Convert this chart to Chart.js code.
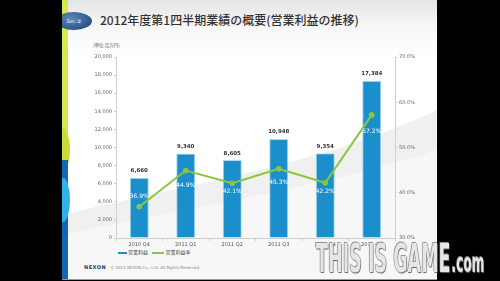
<!DOCTYPE html>
<html>
<head>
<meta charset="utf-8">
<script src="https://cdn.jsdelivr.net/npm/chart.js@4"></script>
<style>
  body { margin: 0; background: #000; width: 500px; height: 281px; overflow: hidden; font-family: "Noto Sans CJK JP", "Noto Sans", sans-serif; }
  #slide { position: absolute; left: 62px; top: 0; width: 375px; height: 280px; background: linear-gradient(#e4e4e4 0px, #f6f6f6 25px, #fff 55px, #fff 100%); overflow: hidden; }
  #deco { position: absolute; left: 0; top: 0; }
  #title { position: absolute; left: 38px; top: 11px; font-size: 12px; font-weight: 500; color: #333; white-space: nowrap; letter-spacing: 0px; }
  #sec { position: absolute; left: -6px; top: 12px; width: 36px; height: 18px; border-radius: 50%; background: radial-gradient(ellipse at 40% 35%, #5b86b8, #1d3f75); color: #fff; font-size: 5px; line-height: 18px; text-align: center; font-family: "DejaVu Sans", sans-serif; }
  #unit { position: absolute; left: 31px; top: 42px; font-size: 4.5px; color: #555; }
  #legend { position: absolute; left: 56px; top: 248px; font-size: 5px; color: #444; white-space: nowrap; }
  #legend span.sw { display: inline-block; width: 9px; height: 2px; vertical-align: middle; margin-right: 1px; }
  #copy { position: absolute; left: 22px; top: 264px; font-size: 4px; color: #888; white-space: nowrap; font-family: "DejaVu Sans", sans-serif; }
  #copy b { color: #233a6e; font-size: 5px; letter-spacing: 0.5px; margin-right: 4px; }
  #wm { position: absolute; left: 316px; top: 237px; font-family: "DejaVu Sans Condensed", "DejaVu Sans", sans-serif; font-weight: bold; font-size: 39px; line-height: 44px; color: #e6e6e6; white-space: nowrap; transform: scaleX(0.5); transform-origin: left top; text-shadow: 0 0 1px #444, 1px 1px 1px #666, -1px -1px 1px #999; }
  #wm small { font-size: 27px; margin-left: 2px; }
  #chartbox { position: absolute; left: 62px; top: 40px; }
</style>
</head>
<body>
<div id="slide">
  <svg id="deco" width="375" height="280">
    <path d="M0,215 C120,185 260,165 375,110 L375,280 L0,280 Z" fill="#f0f0f0"/>
    <path d="M0,235 C140,205 270,185 375,150 L375,280 L0,280 Z" fill="#f7f7f7"/>
    <rect x="0" y="0" width="6" height="160" fill="#d7e84e"/>
    <ellipse cx="0" cy="150" rx="8" ry="22" fill="#c8dc3a"/>
    <rect x="0" y="160" width="6" height="120" fill="#1466b4"/>
    <ellipse cx="1" cy="200" rx="7" ry="22" fill="#2fb2ea"/>
    <line x1="0" y1="279.5" x2="375" y2="279.5" stroke="#999" stroke-width="1"/>
  </svg>
  <div id="sec">Sec.②</div>
  <div id="title">2012年度第1四半期業績の概要(営業利益の推移)</div>
  <div id="unit">(単位:百万円)</div>
  <div id="legend"><span class="sw" style="background:#1b8fcb"></span>営業利益 &nbsp;&nbsp;&nbsp;<span class="sw" style="background:#8cc63f;width:12px"></span>営業利益率</div>
  <div id="copy"><b>NEXON</b>© 2012 NEXON Co., Ltd. All Rights Reserved.</div>
</div>
<div id="chartbox"><canvas id="canvas" width="375" height="230"></canvas></div>
<div id="wm">THIS IS GAME<small>.com</small></div>
<script>
var labels = ['2010 Q4', '2011 Q1', '2011 Q2', '2011 Q3', '2011 Q4', '2012 Q1'];
var profit = [6660, 9340, 8605, 10948, 9354, 17384];
var margin = [36.9, 44.9, 42.1, 45.3, 42.2, 57.2];
var leftTicks = [0, 20000, 2000];
var rightTicks = [30, 70, 10];

var pctOffset = [-10, 15, 8, 14, 9, 17];

var labelPlugin = {
    id: 'labelPlugin',
    afterDatasetsDraw: function(chart) {
        var ctx = chart.ctx;
        ctx.save();
        ctx.textAlign = 'center';
        ctx.textBaseline = 'middle';
        var bars = chart.getDatasetMeta(0).data;
        ctx.font = 'bold 5.5px "DejaVu Sans", sans-serif';
        ctx.fillStyle = '#333';
        bars.forEach(function(bar, i) {
            ctx.fillText(profit[i].toLocaleString('en-US'), bar.x, bar.y - 7);
        });
        var pts = chart.getDatasetMeta(1).data;
        ctx.font = '6px "DejaVu Sans", sans-serif';
        ctx.fillStyle = '#fff';
        pts.forEach(function(p, i) {
            ctx.fillText(margin[i].toFixed(1) + '%', p.x, p.y + pctOffset[i]);
        });
        ctx.restore();
    }
};

var ctx = document.getElementById('canvas').getContext('2d');
var axisColor = '#cfcfcf';
var tickFont = { size: 5, family: '"DejaVu Sans", sans-serif' };

new Chart(ctx, {
    data: {
        labels: labels,
        datasets: [{
            type: 'bar',
            label: '営業利益',
            data: profit,
            yAxisID: 'y',
            order: 2,
            backgroundColor: function(c) {
                var el = c.element;
                if (!el || !el.x) return '#1b8fcb';
                var g = c.chart.ctx.createLinearGradient(el.x - 10, 0, el.x + 10, 0);
                g.addColorStop(0, '#4fb6e4');
                g.addColorStop(0.35, '#1b95cf');
                g.addColorStop(1, '#0c6fa8');
                return g;
            },
            borderColor: '#a8dcf2',
            borderWidth: 1,
            barPercentage: 0.41,
            categoryPercentage: 1
        }, {
            type: 'line',
            label: '営業利益率',
            data: margin,
            yAxisID: 'y1',
            order: 1,
            borderColor: '#8cc63f',
            backgroundColor: '#8cc63f',
            borderWidth: 2,
            pointRadius: 1.8,
            tension: 0
        }]
    },
    options: {
        responsive: false,
        animation: false,
        layout: { padding: { top: 17 } },
        plugins: { legend: { display: false }, tooltip: { enabled: false } },
        scales: {
            x: {
                offset: true,
                grid: { drawOnChartArea: false, drawTicks: true, tickLength: 3, color: axisColor, offset: true },
                border: { color: axisColor },
                ticks: { font: tickFont, color: '#555', padding: 1, maxRotation: 0 },
                afterFit: function(s) { s.height = 32; }
            },
            y: {
                position: 'left',
                min: leftTicks[0], max: leftTicks[1],
                ticks: { stepSize: leftTicks[2], font: tickFont, color: '#666', padding: 2,
                    callback: function(v) { return v.toLocaleString('en-US'); } },
                grid: { drawOnChartArea: false, drawTicks: true, tickLength: 2, color: axisColor },
                border: { color: axisColor },
                afterFit: function(s) { s.width = 54; }
            },
            y1: {
                position: 'right',
                min: rightTicks[0], max: rightTicks[1],
                ticks: { stepSize: rightTicks[2], font: tickFont, color: '#666', padding: 2,
                    callback: function(v) { return v.toFixed(1) + '%'; } },
                grid: { drawOnChartArea: false, drawTicks: true, tickLength: 2, color: axisColor },
                border: { color: axisColor },
                afterFit: function(s) { s.width = 42; }
            }
        }
    },
    plugins: [labelPlugin]
});
</script>
</body>
</html>
